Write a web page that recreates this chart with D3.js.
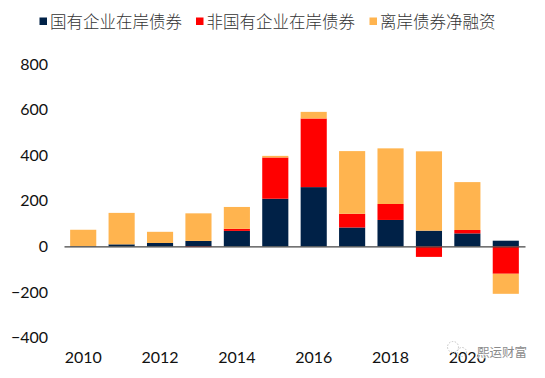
<!DOCTYPE html>
<html>
  <head>
    <meta http-equiv="Content-Type" content="text/html;charset=utf-8"/>
    <title>债券净融资</title>
    <script src="https://d3js.org/d3.v7.min.js"></script>
    <style>
        html, body { margin: 0; padding: 0; background: #fff; }
        svg { display: block; }
        .tick text { font-family: Lato, "Open Sans", sans-serif; font-size: 16px; fill: #111; }
        .legend text { font-family: "Noto Sans CJK SC", sans-serif; font-size: 16.5px; font-weight: 300; fill: #333; }
        .mark text { font-family: "Noto Sans CJK SC", sans-serif; font-size: 12.5px; fill: #8a8a8a; stroke: #fff; stroke-width: 1px; paint-order: stroke; }
    </style>
</head>
  <body>
    <div id="chart"></div>
    <script>
        const years = [2010, 2011, 2012, 2013, 2014, 2015, 2016, 2017, 2018, 2019, 2020, 2021];
        const yearLabels = [2010, 2012, 2014, 2016, 2018, 2020];
        const yTicks = [-400, -200, 0, 200, 400, 600, 800];

        const stateOnshore = [1, 9, 15, 24, 68, 209, 260, 83, 116, 69, 57, 25];
        const privateOnshore = [0, 0, 0, -3, 9, 181, 301, 60, 70, -46, 15, -120];
        const offshore = [72, 138, 49, 121, 96, 7, 29, 275, 244, 348, 210, -88];

        const seriesNames = ["国有企业在岸债券", "非国有企业在岸债券", "离岸债券净融资"];
        const seriesColors = ["#002147", "#FF0000", "#FFB44F"];

        const width = 545, height = 378;
        const margin = {top: 64, right: 20, bottom: 40, left: 64};

        const svg = d3.select("#chart").append("svg")
            .attr("width", width)
            .attr("height", height);

        const x = d3.scaleBand()
            .domain(years)
            .range([margin.left, width - margin.right])
            .paddingInner(0.32)
            .paddingOuter(0.16);

        const y = d3.scaleLinear()
            .domain([-400, 800])
            .range([337.6, 64]);

        const rows = years.map((year, i) => ({
            year: year,
            0: stateOnshore[i],
            1: privateOnshore[i],
            2: offshore[i]
        }));

        const stacked = d3.stack()
            .keys([0, 1, 2])
            .offset(d3.stackOffsetDiverging)(rows);

        svg.append("g").selectAll("g")
            .data(stacked)
            .enter().append("g")
            .attr("fill", d => seriesColors[d.key])
            .selectAll("rect")
            .data(d => d)
            .enter().append("rect")
            .attr("x", d => x(d.data.year))
            .attr("width", x.bandwidth())
            .attr("y", d => y(Math.max(d[0], d[1])))
            .attr("height", d => Math.abs(y(d[0]) - y(d[1])));

        // zero line, labels sit at the bottom instead
        const zeroAxis = svg.append("g")
            .attr("transform", "translate(0," + y(0) + ")")
            .call(d3.axisBottom(x).tickSize(0).tickFormat(""));
        zeroAxis.select(".domain").attr("stroke", "#444").attr("stroke-width", 1.2);

        const xAxis = svg.append("g")
            .attr("transform", "translate(0,352)")
            .call(d3.axisBottom(x).tickValues(yearLabels).tickSize(0).tickPadding(0));
        xAxis.select(".domain").remove();

        const yAxis = svg.append("g")
            .attr("transform", "translate(48,0)")
            .call(d3.axisLeft(y).tickValues(yTicks).tickSize(0).tickPadding(0));
        yAxis.select(".domain").remove();

        // legend
        const legendX = [39.5, 196, 369.5];
        const legend = svg.append("g").attr("class", "legend");
        seriesNames.forEach((name, i) => {
            legend.append("rect")
                .attr("x", legendX[i])
                .attr("y", 17.5)
                .attr("width", 7.5)
                .attr("height", 7.5)
                .attr("fill", seriesColors[i]);
            legend.append("text")
                .attr("x", legendX[i] + 10.5)
                .attr("y", 28)
                .text(name);
        });

        // watermark, it lies over the 2020 label in the source too
        const mark = svg.append("g").attr("class", "mark");
        mark.append("circle").attr("cx", 453).attr("cy", 347).attr("r", 5.5)
            .attr("fill", "none").attr("stroke", "#c4c4c4").attr("stroke-dasharray", "1.5 1.5");
        mark.append("circle").attr("cx", 462).attr("cy", 352).attr("r", 4.5)
            .attr("fill", "none").attr("stroke", "#c4c4c4").attr("stroke-dasharray", "1.5 1.5");
        mark.append("text").attr("x", 477).attr("y", 357).text("熙运财富");
    </script>
</body>
</html>
